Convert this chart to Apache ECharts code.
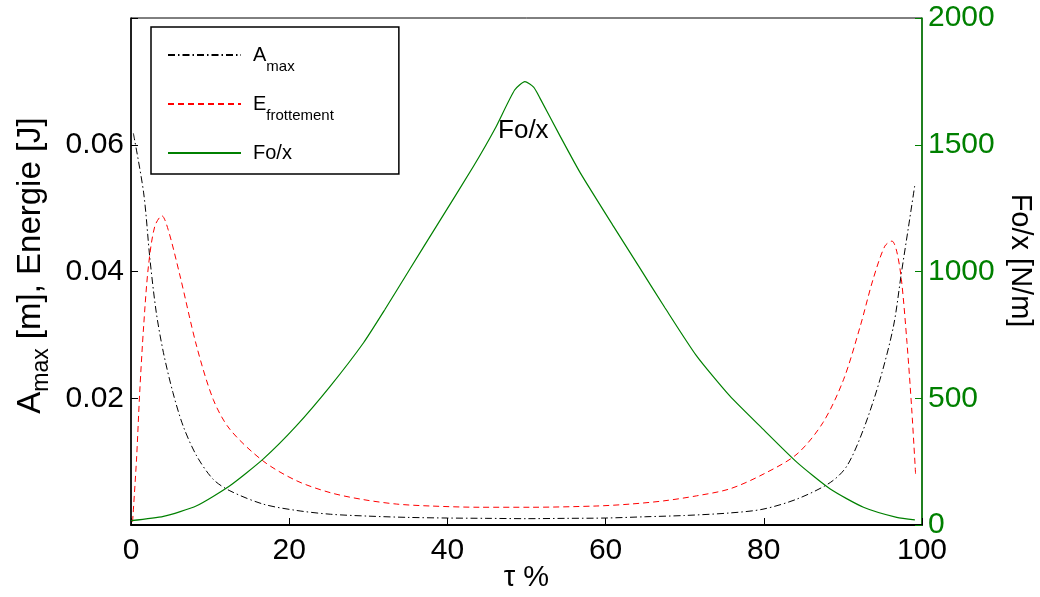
<!DOCTYPE html>
<html>
<head>
<meta charset="utf-8">
<script src="https://cdn.jsdelivr.net/npm/echarts@6.0.0/dist/echarts.min.js"></script>
<style>
html,body{margin:0;padding:0;background:#fff;}
#chart{width:1040px;height:597px;}
</style>
</head>
<body>
<div id="chart"></div>
<script>
// ---- Data ----
const tauA = [0.3, 1.6, 2.4, 3.2, 4.1, 5.3, 6.6, 8.3, 10.4, 12.5, 16.7, 20.9, 25.2, 30, 35, 40, 45, 50, 55, 60, 65, 70, 75.7, 79.9, 84.2, 88.4, 90.5, 92.6, 94.7, 96.4, 97.4, 98.3, 99.1];
const ampMax = [0.0618, 0.0524, 0.0419, 0.0335, 0.0272, 0.0209, 0.0156, 0.0109, 0.0072, 0.0054, 0.0033, 0.0023, 0.0017, 0.0014, 0.0012, 0.0011, 0.00105, 0.001, 0.00105, 0.0011, 0.0013, 0.0015, 0.0019, 0.0025, 0.0041, 0.0067, 0.0093, 0.0151, 0.0230, 0.0314, 0.0398, 0.0471, 0.0537];

const tauE = [0.2, 0.7, 1.1, 1.6, 2.2, 3.0, 3.9, 4.7, 6.2, 8.3, 10.4, 12.5, 16.7, 20.9, 25.2, 29.4, 33.6, 37.8, 44.1, 50.5, 58.9, 63.1, 67.3, 71.5, 75.7, 79.9, 84.2, 87.5, 90.1, 92.2, 93.8, 95.3, 96.2, 96.8, 97.4, 98.1, 98.7, 99.2];
const energy = [0.0005, 0.0104, 0.0209, 0.0314, 0.0408, 0.0471, 0.0488, 0.0466, 0.0393, 0.0282, 0.0198, 0.0151, 0.0101, 0.0070, 0.0051, 0.0040, 0.0033, 0.0030, 0.0028, 0.0028, 0.0030, 0.0033, 0.0038, 0.0046, 0.0057, 0.0080, 0.0112, 0.0162, 0.0230, 0.0314, 0.0387, 0.0440, 0.0448, 0.0432, 0.0387, 0.0288, 0.0183, 0.0078];

const tauF = [0, 4.1, 8.3, 12.5, 16.7, 20.9, 25.2, 29.4, 32.1, 35.3, 38.6, 43.3, 46.0, 48.5, 49.8, 50.9, 51.7, 54.2, 56.8, 61.0, 64.2, 67.5, 71.5, 75.7, 79.9, 84.2, 88.4, 92.6, 96.8, 99.1];
const stiffness = [17, 34, 76, 155, 260, 391, 548, 719, 850, 1012, 1178, 1415, 1562, 1716, 1749, 1727, 1684, 1537, 1389, 1178, 1020, 857, 667, 509, 378, 247, 142, 70, 30, 20];

const annotation = { text: 'Fo/x', tau: 49.6, value: 1555 };

const zip = (xs, ys) => xs.map((x, i) => [x, ys[i]]);
const FONT = 'Liberation Sans, Arial, Helvetica, sans-serif';
const GREEN = '#008000';

const chart = echarts.init(document.getElementById('chart'), null, { renderer: 'canvas' });

const legendNames = {
  'Amax': '{a|A}{s|max}',
  'Efrottement': '{a|E}{s|frottement}',
  'Fo/x': '{p|Fo/x}'
};

chart.setOption({
  animation: false,
  backgroundColor: '#fff',
  grid: { left: 131, right: 118, top: 18, bottom: 72, show: true, borderColor: '#000', borderWidth: 1, outerBoundsMode: 'none', containLabel: false },
  legend: {
    orient: 'vertical',
    left: 151, top: 27,
    padding: [18, 65, 11, 16],
    itemGap: 20,
    itemWidth: 73,
    itemHeight: 14,
    borderColor: '#000',
    borderWidth: 1.5,
    backgroundColor: '#fff',
    itemStyle: { opacity: 0 },
    formatter: name => legendNames[name],
    textStyle: {
      fontFamily: FONT, color: '#000', padding: [0, 0, 0, 7],
      rich: {
        a: { fontSize: 20, lineHeight: 38, fontFamily: FONT, color: '#000' },
        s: { fontSize: 15, lineHeight: 14, verticalAlign: 'bottom', fontFamily: FONT, color: '#000' },
        p: { fontSize: 20, lineHeight: 24, fontFamily: FONT, color: '#000' }
      }
    },
    data: ['Amax', 'Efrottement', 'Fo/x']
  },
  xAxis: {
    type: 'value', min: 0, max: 100, interval: 20,
    name: 'τ %', nameLocation: 'middle', nameGap: 38, nameMoveOverlap: false,
    nameTextStyle: { fontFamily: FONT, fontSize: 29, color: '#000' },
    axisLine: { lineStyle: { color: '#000', width: 2 } },
    axisTick: { inside: true, length: 7, lineStyle: { color: '#000' } },
    axisLabel: { fontFamily: FONT, fontSize: 30, color: '#000', margin: 11 },
    splitLine: { show: false }
  },
  yAxis: [
    {
      type: 'value', min: 0, max: 0.08, interval: 0.02, position: 'left',
      name: '{a|A}{s|max}{a| [m], Energie [J]}', nameLocation: 'middle', nameGap: 78,
      nameTextStyle: {
        fontFamily: FONT, color: '#000', padding: [0, 0, 0, 12],
        rich: {
          a: { fontSize: 33, lineHeight: 44, fontFamily: FONT, color: '#000' },
          s: { fontSize: 23, lineHeight: 18, verticalAlign: 'bottom', fontFamily: FONT, color: '#000' }
        }
      },
      axisLine: { show: true, lineStyle: { color: '#000', width: 1.5 } },
      axisTick: { inside: true, length: 7, lineStyle: { color: '#000' } },
      axisLabel: {
        fontFamily: FONT, fontSize: 30, color: '#000', margin: 7,
        formatter: v => (v === 0 || v > 0.079) ? '' : v.toFixed(2)
      },
      splitLine: { show: false }
    },
    {
      type: 'value', min: 0, max: 2000, interval: 500, position: 'right',
      name: 'Fo/x [N/m]', nameLocation: 'middle', nameGap: 81, nameRotate: -90,
      nameTextStyle: { fontFamily: FONT, fontSize: 29, color: '#000', padding: [0, 22, 0, 0] },
      axisLine: { show: true, lineStyle: { color: GREEN, width: 1.5 } },
      axisTick: { inside: true, length: 7, lineStyle: { color: GREEN } },
      axisLabel: { fontFamily: FONT, fontSize: 30, color: GREEN, margin: 6, formatter: v => String(v) },
      splitLine: { show: false }
    }
  ],
  series: [
    {
      name: 'Amax', type: 'line', yAxisIndex: 0, symbol: 'none', smooth: 0.3,
      lineStyle: { color: '#000', width: 1, type: [7, 3, 1.5, 3] },
      itemStyle: { color: '#000' },
      data: zip(tauA, ampMax)
    },
    {
      name: 'Efrottement', type: 'line', yAxisIndex: 0, symbol: 'none', smooth: 0.3,
      lineStyle: { color: '#ff0000', width: 1, type: [6, 4] },
      itemStyle: { color: '#ff0000' },
      data: zip(tauE, energy)
    },
    {
      name: 'Fo/x', type: 'line', yAxisIndex: 1, symbol: 'none', smooth: 0.2,
      lineStyle: { color: GREEN, width: 1.2, type: 'solid' },
      itemStyle: { color: GREEN },
      data: zip(tauF, stiffness),
      markPoint: {
        symbol: 'circle', symbolSize: 1,
        itemStyle: { color: 'rgba(0,0,0,0)' },
        label: { show: true, position: 'inside', formatter: annotation.text, fontFamily: FONT, fontSize: 26, color: '#000' },
        data: [{ coord: [annotation.tau, annotation.value] }]
      }
    }
  ]
});
</script>
</body>
</html>
